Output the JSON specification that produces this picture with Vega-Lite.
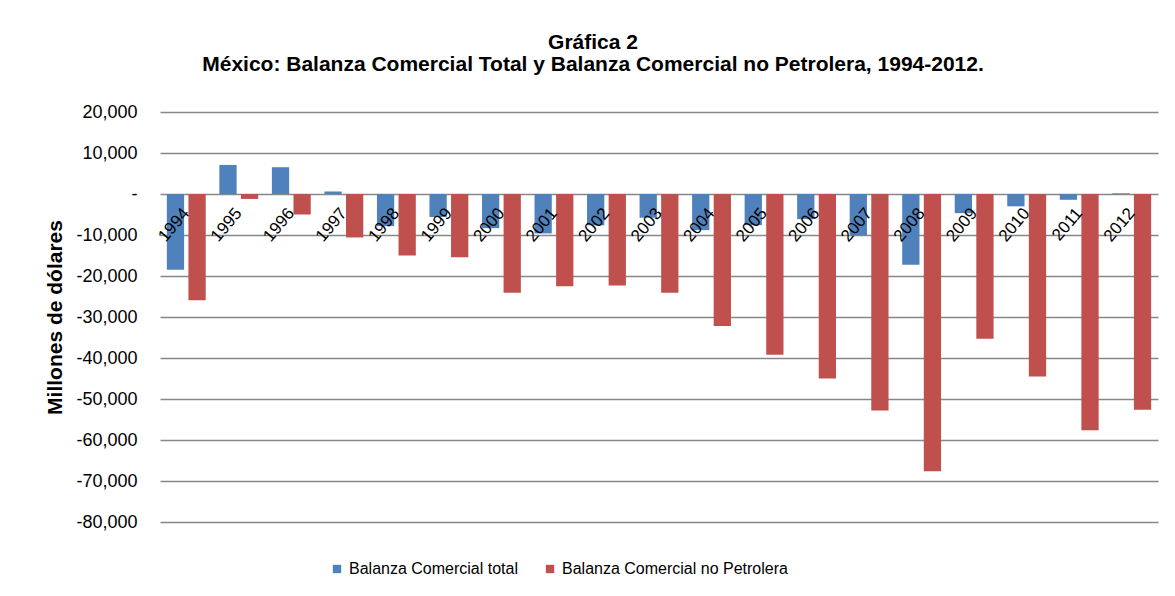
{
  "$schema": "https://vega.github.io/schema/vega-lite/v6.json",
  "width": 998,
  "height": 410,
  "autosize": {"type": "none"},
  "padding": {"left": 160, "top": 112, "right": 17, "bottom": 74},
  "background": "white",
  "title": {
    "text": ["Gráfica 2", "México: Balanza Comercial Total y Balanza Comercial no Petrolera, 1994-2012."],
    "font": "Liberation Sans",
    "fontSize": 21,
    "fontWeight": "bold",
    "lineHeight": 22,
    "color": "black",
    "anchor": "middle",
    "frame": "group",
    "dx": -66,
    "offset": 28
  },
  "data": {
    "values": [
      {"year": "1994", "serie": "Balanza Comercial total", "value": -18464},
      {"year": "1994", "serie": "Balanza Comercial no Petrolera", "value": -25900},
      {"year": "1995", "serie": "Balanza Comercial total", "value": 7089},
      {"year": "1995", "serie": "Balanza Comercial no Petrolera", "value": -1200},
      {"year": "1996", "serie": "Balanza Comercial total", "value": 6531},
      {"year": "1996", "serie": "Balanza Comercial no Petrolera", "value": -5000},
      {"year": "1997", "serie": "Balanza Comercial total", "value": 624},
      {"year": "1997", "serie": "Balanza Comercial no Petrolera", "value": -10600},
      {"year": "1998", "serie": "Balanza Comercial total", "value": -7834},
      {"year": "1998", "serie": "Balanza Comercial no Petrolera", "value": -15000},
      {"year": "1999", "serie": "Balanza Comercial total", "value": -5613},
      {"year": "1999", "serie": "Balanza Comercial no Petrolera", "value": -15400},
      {"year": "2000", "serie": "Balanza Comercial total", "value": -8337},
      {"year": "2000", "serie": "Balanza Comercial no Petrolera", "value": -24100},
      {"year": "2001", "serie": "Balanza Comercial total", "value": -9617},
      {"year": "2001", "serie": "Balanza Comercial no Petrolera", "value": -22500},
      {"year": "2002", "serie": "Balanza Comercial total", "value": -7633},
      {"year": "2002", "serie": "Balanza Comercial no Petrolera", "value": -22300},
      {"year": "2003", "serie": "Balanza Comercial total", "value": -5779},
      {"year": "2003", "serie": "Balanza Comercial no Petrolera", "value": -24100},
      {"year": "2004", "serie": "Balanza Comercial total", "value": -8811},
      {"year": "2004", "serie": "Balanza Comercial no Petrolera", "value": -32200},
      {"year": "2005", "serie": "Balanza Comercial total", "value": -7587},
      {"year": "2005", "serie": "Balanza Comercial no Petrolera", "value": -39200},
      {"year": "2006", "serie": "Balanza Comercial total", "value": -6133},
      {"year": "2006", "serie": "Balanza Comercial no Petrolera", "value": -45000},
      {"year": "2007", "serie": "Balanza Comercial total", "value": -10074},
      {"year": "2007", "serie": "Balanza Comercial no Petrolera", "value": -52800},
      {"year": "2008", "serie": "Balanza Comercial total", "value": -17261},
      {"year": "2008", "serie": "Balanza Comercial no Petrolera", "value": -67600},
      {"year": "2009", "serie": "Balanza Comercial total", "value": -4681},
      {"year": "2009", "serie": "Balanza Comercial no Petrolera", "value": -35300},
      {"year": "2010", "serie": "Balanza Comercial total", "value": -3009},
      {"year": "2010", "serie": "Balanza Comercial no Petrolera", "value": -44500},
      {"year": "2011", "serie": "Balanza Comercial total", "value": -1410},
      {"year": "2011", "serie": "Balanza Comercial no Petrolera", "value": -57600},
      {"year": "2012", "serie": "Balanza Comercial total", "value": 163},
      {"year": "2012", "serie": "Balanza Comercial no Petrolera", "value": -52600}
    ]
  },
  "mark": {"type": "bar"},
  "encoding": {
    "x": {
      "field": "year",
      "type": "ordinal",
      "scale": {"paddingInner": 0.26, "paddingOuter": 0.13},
      "axis": {
        "title": null,
        "orient": "bottom",
        "offset": -328,
        "zindex": 1,
        "labelAngle": -50,
        "domain": false,
        "ticks": false,
        "grid": false,
        "labelFont": "Liberation Sans",
        "labelFontSize": 17,
        "labelColor": "black",
        "labelPadding": 16
      }
    },
    "xOffset": {
      "field": "serie",
      "sort": ["Balanza Comercial total", "Balanza Comercial no Petrolera"],
      "scale": {"paddingInner": 0.2}
    },
    "y": {
      "field": "value",
      "type": "quantitative",
      "scale": {"domain": [-80000, 20000], "nice": false, "zero": false},
      "axis": {
        "title": "Millones de dólares",
        "titleFont": "Liberation Sans",
        "titleFontSize": 21,
        "titleFontWeight": "bold",
        "titleColor": "black",
        "titlePadding": 10,
        "values": [-80000, -70000, -60000, -50000, -40000, -30000, -20000, -10000, 0, 10000, 20000],
        "labelExpr": "datum.value == 0 ? '-\u00a0\u00a0' : replace(format(datum.value, ','), '−', '-')",
        "labelFont": "Liberation Sans",
        "labelFontSize": 18,
        "labelColor": "black",
        "labelPadding": 23,
        "domain": false,
        "ticks": false,
        "grid": true,
        "gridColor": "#878787",
        "gridWidth": 1.5
      }
    },
    "color": {
      "field": "serie",
      "type": "nominal",
      "sort": ["Balanza Comercial total", "Balanza Comercial no Petrolera"],
      "scale": {
        "domain": ["Balanza Comercial total", "Balanza Comercial no Petrolera"],
        "range": ["#4F81BD", "#C0504D"]
      },
      "legend": {
        "title": null,
        "orient": "none",
        "direction": "horizontal",
        "legendX": 169,
        "legendY": 449,
        "symbolType": "square",
        "symbolSize": 70,
        "symbolStrokeWidth": 0,
        "labelFont": "Liberation Sans",
        "labelFontSize": 16,
        "labelLimit": 0,
        "labelColor": "black",
        "labelOffset": 4,
        "columnPadding": 24
      }
    }
  },
  "config": {
    "view": {"stroke": null}
  }
}
